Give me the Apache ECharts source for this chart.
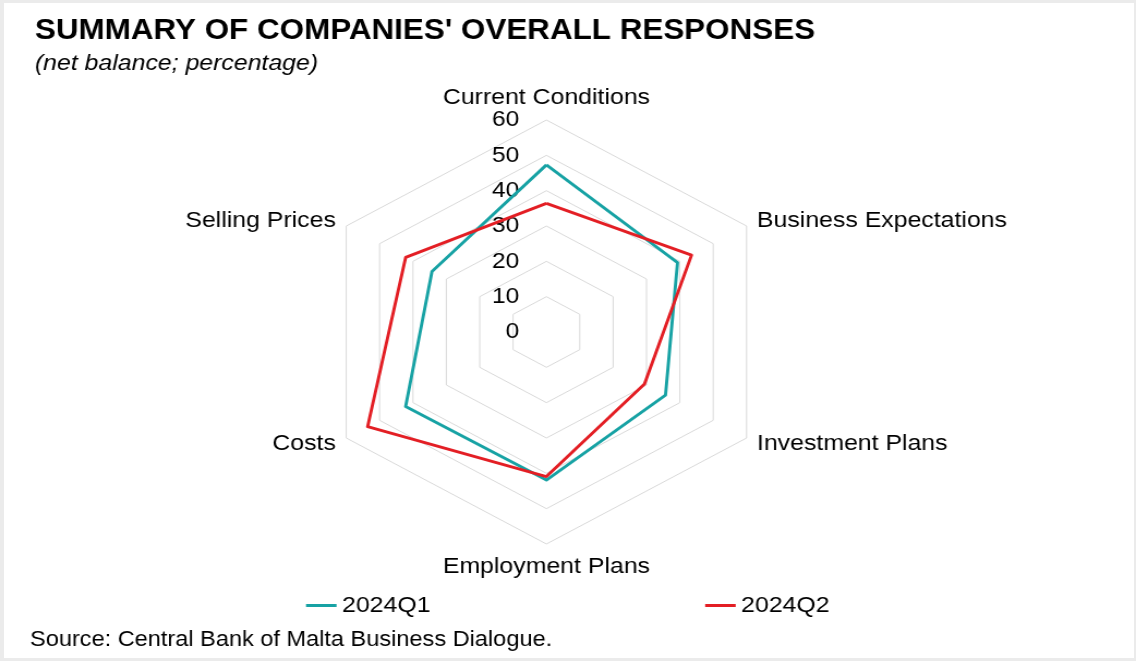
<!DOCTYPE html>
<html>
<head>
<meta charset="utf-8">
<title>Summary of companies' overall responses</title>
<script src="https://cdn.jsdelivr.net/npm/echarts@6/dist/echarts.min.js"></script>
<style>
  html, body { margin: 0; padding: 0; background: #ebebeb; width: 1136px; height: 661px; overflow: hidden; }
  #sheet { position: absolute; left: 4px; top: 3px; width: 1130px; height: 655px; background: #ffffff; }
  /* the chart is laid out on a narrower canvas and widened to the page width */
  #chart { position: absolute; left: 0; top: 0; width: 1042px; height: 661px;
           transform: scaleX(1.0902); transform-origin: 0 0; }
</style>
</head>
<body>
<div id="sheet"></div>
<div id="chart"></div>
<script>
// Survey dimensions, clockwise from the top
const categories = [
  'Current Conditions',
  'Business Expectations',
  'Investment Plans',
  'Employment Plans',
  'Costs',
  'Selling Prices'
];

// Net balances (percentage)
const q1Values = [47.3, 39.3, 35.7, 41.9, 42.2, 34.3];
const q2Values = [36.4, 43.5, 29.4, 40.9, 53.6, 42.2];

const seriesNames = ['2024Q1', '2024Q2'];
const seriesColors = ['#17a2a4', '#e31e24'];

// Scale of the value axis
const axisMin = 0;
const axisMax = 60;
const axisStep = 10;
const tickLabels = ['0', '10', '20', '30', '40', '50', '60'];

const FONT = '"Liberation Sans", Arial, sans-serif';
const CENTER = [501.2, 332];
const RADIUS = 212;
const splits = (axisMax - axisMin) / axisStep;

// ECharts lays radar indicators out counter-clockwise; keep the first one on top
// and reverse the rest so the dimensions run clockwise.
const clockwise = arr => [arr[0]].concat(arr.slice(1).reverse());

const chart = echarts.init(document.getElementById('chart'), null, { renderer: 'canvas' });

const option = {
  animation: false,
  title: [
    {
      text: "SUMMARY OF COMPANIES' OVERALL RESPONSES",
      left: 32,
      top: 17,
      padding: 0,
      textStyle: { fontFamily: FONT, fontSize: 28.8, fontWeight: 'bold', color: '#000' }
    },
    {
      text: '(net balance; percentage)',
      left: 32,
      top: 52,
      padding: 0,
      textStyle: { fontFamily: FONT, fontSize: 22.8, fontStyle: 'italic', fontWeight: 'normal', color: '#000' }
    },
    {
      text: 'Source: Central Bank of Malta Business Dialogue.',
      left: 27.5,
      top: 629,
      padding: 0,
      textStyle: { fontFamily: FONT, fontSize: 21.6, fontWeight: 'normal', color: '#000' }
    }
  ],
  legend: {
    data: seriesNames,
    left: 280.7,
    top: 594,
    padding: 0,
    itemGap: 252,
    itemWidth: 28,
    itemHeight: 3,
    icon: 'rect',
    selectedMode: false,
    textStyle: { fontFamily: FONT, fontSize: 22.8, color: '#000' }
  },
  radar: [
    {
      // web with category names
      center: CENTER,
      radius: RADIUS,
      startAngle: 90,
      shape: 'polygon',
      splitNumber: splits,
      nameGap: 11,
      indicator: clockwise(categories).map(name => ({ name, min: axisMin, max: axisMax })),
      axisName: { color: '#000', fontFamily: FONT, fontSize: 22.8 },
      axisLine: { show: false },
      axisTick: { show: false },
      axisLabel: { show: false },
      splitArea: { show: false },
      splitLine: { lineStyle: { color: '#d9d9d9', width: 1 } }
    },
    {
      // single vertical axis carrying the value labels
      center: CENTER,
      radius: RADIUS,
      startAngle: 90,
      shape: 'polygon',
      splitNumber: splits,
      indicator: [{ name: '', min: axisMin, max: axisMax }],
      axisName: { show: false },
      axisLine: { show: false },
      axisTick: { show: false },
      splitArea: { show: false },
      splitLine: { show: false },
      axisLabel: {
        show: true,
        margin: 25,
        color: '#000',
        fontFamily: FONT,
        fontSize: 22.5,
        formatter: v => tickLabels[Math.round((v - axisMin) / axisStep)] ?? String(v)
      }
    }
  ],
  series: [
    {
      type: 'radar',
      radarIndex: 0,
      symbol: 'none',
      silent: true,
      data: [
        {
          name: seriesNames[0],
          value: clockwise(q1Values),
          itemStyle: { color: seriesColors[0] },
          lineStyle: { color: seriesColors[0], width: 2.9 }
        },
        {
          name: seriesNames[1],
          value: clockwise(q2Values),
          itemStyle: { color: seriesColors[1] },
          lineStyle: { color: seriesColors[1], width: 2.9 }
        }
      ]
    }
  ]
};

chart.setOption(option);
</script>
</body>
</html>
